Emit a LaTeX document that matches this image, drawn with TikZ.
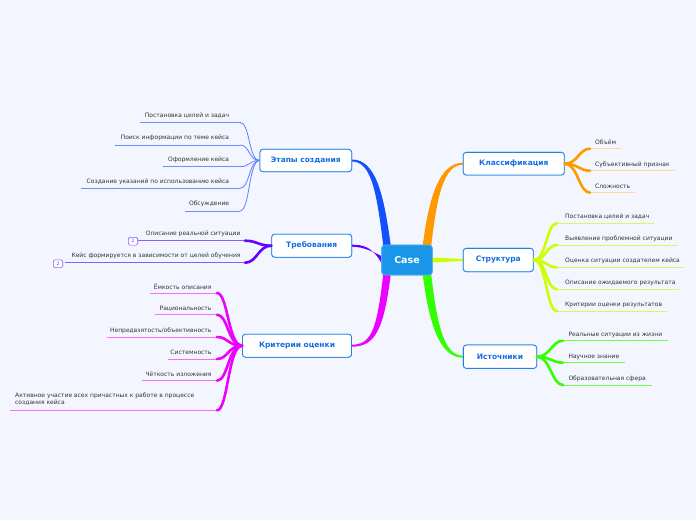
\documentclass[tikz,border=0pt]{standalone}
\usepackage{fontspec}
\setmainfont{DejaVu Sans}
\definecolor{bgcol}{RGB}{243,246,254}
\definecolor{topicBlue}{RGB}{35,128,230}
\definecolor{topicText}{RGB}{20,110,225}
\definecolor{caseFill}{RGB}{25,150,232}
\definecolor{cBlue}{RGB}{20,80,255}
\definecolor{cPurple}{RGB}{102,0,255}
\definecolor{cMag}{RGB}{238,0,255}
\definecolor{cOrange}{RGB}{255,153,0}
\definecolor{cYellow}{RGB}{204,255,0}
\definecolor{cGreen}{RGB}{51,255,0}
\definecolor{uBlue}{RGB}{110,140,255}
\definecolor{uPurple}{RGB}{140,90,255}
\definecolor{uMag}{RGB}{245,110,255}
\definecolor{uOrange}{RGB}{255,215,160}
\definecolor{uYellow}{RGB}{215,250,90}
\definecolor{uGreen}{RGB}{110,255,70}
\definecolor{leafText}{RGB}{51,51,51}
\definecolor{badgeCol}{RGB}{140,90,255}
% left leaf: name, text right x, text y, underline y, underline start x, underline end x, text
\newcommand\lleaf[7]{%
  \node[leaf, anchor=east] (#1) at (#2,#3) {#7};
  \coordinate (#1s) at (#5,#4);
  \coordinate (#1e) at (#6,#4);
  \draw[ul] (#1s) -- (#1e);}
% right leaf: name, text left x, text y, underline y, underline start x, underline end x, text
\newcommand\rleaf[7]{%
  \node[leaf, anchor=west] (#1) at (#2,#3) {#7};
  \coordinate (#1s) at (#5,#4);
  \coordinate (#1e) at (#6,#4);
  \draw[ul] (#1s) -- (#1e);}
\begin{document}
\begin{tikzpicture}[x=1pt,y=-1pt,
  topic/.style={draw=topicBlue, line width=0.8pt, fill=white, rounded corners=3pt,
    text=topicText, font=\bfseries\fontsize{7.5}{9}\selectfont, inner sep=0pt},
  casebox/.style={fill=caseFill, draw=caseFill!70!white, line width=0.6pt, rounded corners=3pt,
    text=white, font=\bfseries\fontsize{9.5}{11}\selectfont, inner sep=0pt,
    minimum width=50.6pt, minimum height=30pt},
  leaf/.style={text=leafText, font=\fontsize{6}{7}\selectfont, inner sep=0pt},
  badge/.style={draw=badgeCol, fill=white, rounded corners=1.5pt, line width=0.6pt,
    text=badgeCol!70!black, font=\fontsize{4.5}{5}\selectfont, inner sep=0pt,
    minimum width=9.4pt, minimum height=7.8pt},
  br/.style={line width=2.6pt, line cap=round}]
\fill[bgcol] (0,0) rectangle (696,520);
\useasboundingbox (0,0) rectangle (696,520);

% ---------- nodes ----------
\node[casebox] (case) at (407,260) {Case};
\node[topic, minimum width=91.7pt, minimum height=22.4pt] (etapy) at (305.8,160.5) {Этапы создания};
\node[topic, minimum width=80pt, minimum height=23pt] (treb) at (311.7,245.7) {Требования};
\node[topic, minimum width=109pt, minimum height=23pt] (krit) at (297,345.7) {Критерии оценки};
\node[topic, minimum width=101pt, minimum height=22.7pt] (klass) at (513.8,163.7) {Классификация};
\node[topic, minimum width=70pt, minimum height=23.3pt] (strukt) at (498.3,260) {Структура};
\node[topic, minimum width=73.3pt, minimum height=23.3pt] (istoch) at (500,356.7) {Источники};

% ---------- main tapered connectors (behind nodes) ----------
\begin{scope}[on background layer/.style={}]
\fill[cBlue] ([xshift=2pt,yshift=-2pt]case.north west) .. controls (377,195) and (372,161.5) .. ([yshift=-1pt]etapy.east)
  -- ([yshift=1pt]etapy.east) .. controls (376,159.5) and (384,195) .. ([xshift=9.5pt,yshift=-2pt]case.north west) -- cycle;
\fill[cPurple] ([yshift=-3pt]case.west) .. controls (372,246) and (362,244.7) .. ([yshift=1pt]treb.east)
  -- ([yshift=-1pt]treb.east) .. controls (362,246.7) and (372,251) .. ([yshift=4pt]case.west) -- cycle;
\fill[cMag] ([xshift=2pt,yshift=2pt]case.south west) .. controls (377,328) and (372,344.7) .. ([yshift=1pt]krit.east)
  -- ([yshift=-1pt]krit.east) .. controls (376,346.7) and (384,328) .. ([xshift=9.5pt,yshift=2pt]case.south west) -- cycle;
\fill[cOrange] ([xshift=-10pt,yshift=-2pt]case.north east) .. controls (429,195) and (440,162.7) .. ([yshift=1pt]klass.west)
  -- ([yshift=-1pt]klass.west) .. controls (444,164.7) and (437,195) .. ([xshift=-1.5pt,yshift=-2pt]case.north east) -- cycle;
\fill[cYellow] ([yshift=2.5pt]case.east) -- ([yshift=1pt]strukt.west) -- ([yshift=-1pt]strukt.west) -- ([yshift=-2.5pt]case.east) -- cycle;
\fill[cGreen] ([xshift=-10pt,yshift=2pt]case.south west -| case.south east) .. controls (429,325) and (440,357.7) .. ([yshift=-1pt]istoch.west)
  -- ([yshift=1pt]istoch.west) .. controls (444,355.7) and (437,325) .. ([xshift=-1.5pt,yshift=2pt]case.south east) -- cycle;
\end{scope}
% redraw nodes on top
\node[casebox] at (case) {Case};
\node[topic, minimum width=91.7pt, minimum height=22.4pt] at (etapy) {Этапы создания};
\node[topic, minimum width=80pt, minimum height=23pt] at (treb) {Требования};
\node[topic, minimum width=109pt, minimum height=23pt] at (krit) {Критерии оценки};
\node[topic, minimum width=101pt, minimum height=22.7pt] at (klass) {Классификация};
\node[topic, minimum width=70pt, minimum height=23.3pt] at (strukt) {Структура};
\node[topic, minimum width=73.3pt, minimum height=23.3pt] at (istoch) {Источники};

% ---------- Этапы создания ----------
\begin{scope}[ul/.style={draw=uBlue, line width=0.8pt}]
\lleaf{e1}{229.3}{116}{122.3}{140}{240}{Постановка целей и задач}
\lleaf{e2}{229.3}{138}{145}{115}{240}{Поиск информации по теме кейса}
\lleaf{e3}{229.3}{160}{166.7}{163}{240}{Оформление кейса}
\lleaf{e4}{229.3}{182}{188.3}{81}{240}{Создание указаний по использованию кейса}
\lleaf{e5}{229.3}{204}{211}{185}{240}{Обсуждение}
\end{scope}
\foreach \n in {e1,e2,e3,e4,e5}
  \draw[uBlue!80!cBlue, line width=0.8pt] (etapy.west) .. controls +(-11,0) and +(10,0) .. (\n e);

% ---------- Требования ----------
\begin{scope}[ul/.style={draw=uPurple, line width=0.8pt}]
\lleaf{t1}{240.7}{234}{240.7}{138.3}{245}{Описание реальной ситуации}
\lleaf{t2}{240.7}{256}{262.7}{65}{245}{Кейс формируется в зависимости от целей обучения}
\end{scope}
\node[badge] (b1) at (133,241.2) {2};
\node[badge] (b2) at (58,263.7) {2};
\foreach \n in {t1,t2}
  \draw[br, cPurple] (treb.west) .. controls +(-13,0) and +(12,0) .. (\n e);

% ---------- Критерии оценки ----------
\begin{scope}[ul/.style={draw=uMag, line width=0.8pt}]
\lleaf{k1}{211.7}{286.5}{293}{150}{217}{Ёмкость описания}
\lleaf{k2}{211.7}{308.5}{314.7}{155}{217}{Рациональность}
\lleaf{k3}{211.7}{330.5}{337}{106.7}{217}{Непредвзятость/объективность}
\lleaf{k4}{211.7}{352.5}{359}{168}{217}{Системность}
\lleaf{k5}{211.7}{374.5}{380.7}{141.7}{217}{Чёткость изложения}
\node[leaf, anchor=north west, align=left, font=\fontsize{6}{7.2}\selectfont] (k6) at (15,392.5)
  {Активное участие всех причастных к работе в процессе\\создания кейса};
\coordinate (k6s) at (10,410.3);
\coordinate (k6e) at (217,410.3);
\draw[ul] (k6s) -- (k6e);
\end{scope}
\foreach \n in {k1,k2,k3,k4,k5,k6}
  \draw[br, cMag] (krit.west) .. controls +(-14,0) and +(11,0) .. (\n e);

% ---------- Классификация ----------
\begin{scope}[ul/.style={draw=uOrange, line width=0.8pt}]
\rleaf{c1}{595}{142.5}{148.7}{590}{621}{Объём}
\rleaf{c2}{595}{164.5}{170.7}{590}{675}{Субъективный признак}
\rleaf{c3}{595}{186.5}{192.7}{590}{635}{Сложность}
\end{scope}
\foreach \n in {c1,c2,c3}
  \draw[br, cOrange] (klass.east) .. controls +(13,0) and +(-11,0) .. (\n s);

% ---------- Структура ----------
\begin{scope}[ul/.style={draw=uYellow, line width=0.8pt}]
\rleaf{s1}{565}{216.5}{223.3}{557}{654}{Постановка целей и задач}
\rleaf{s2}{565}{238.5}{245}{557}{677.7}{Выявление проблемной ситуации}
\rleaf{s3}{565}{260.5}{267.3}{557}{684}{Оценка ситуации создателем кейса}
\rleaf{s4}{565}{282.5}{289.3}{557}{679}{Описание ожидаемого результата}
\rleaf{s5}{565}{304.5}{311}{557}{666.7}{Критерии оценки результатов}
\end{scope}
\foreach \n in {s1,s2,s3,s4,s5}
  \draw[br, cYellow] (strukt.east) .. controls +(13,0) and +(-11,0) .. (\n s);

% ---------- Источники ----------
\begin{scope}[ul/.style={draw=uGreen, line width=0.8pt}]
\rleaf{g1}{568.3}{334.5}{340.7}{563}{667.7}{Реальные ситуации из жизни}
\rleaf{g2}{568.3}{356.5}{362.7}{563}{625}{Научное знание}
\rleaf{g3}{568.3}{378.5}{385}{563}{651.7}{Образовательная сфера}
\end{scope}
\foreach \n in {g1,g2,g3}
  \draw[br, cGreen] (istoch.east) .. controls +(13,0) and +(-11,0) .. (\n s);
\end{tikzpicture}
\end{document}
